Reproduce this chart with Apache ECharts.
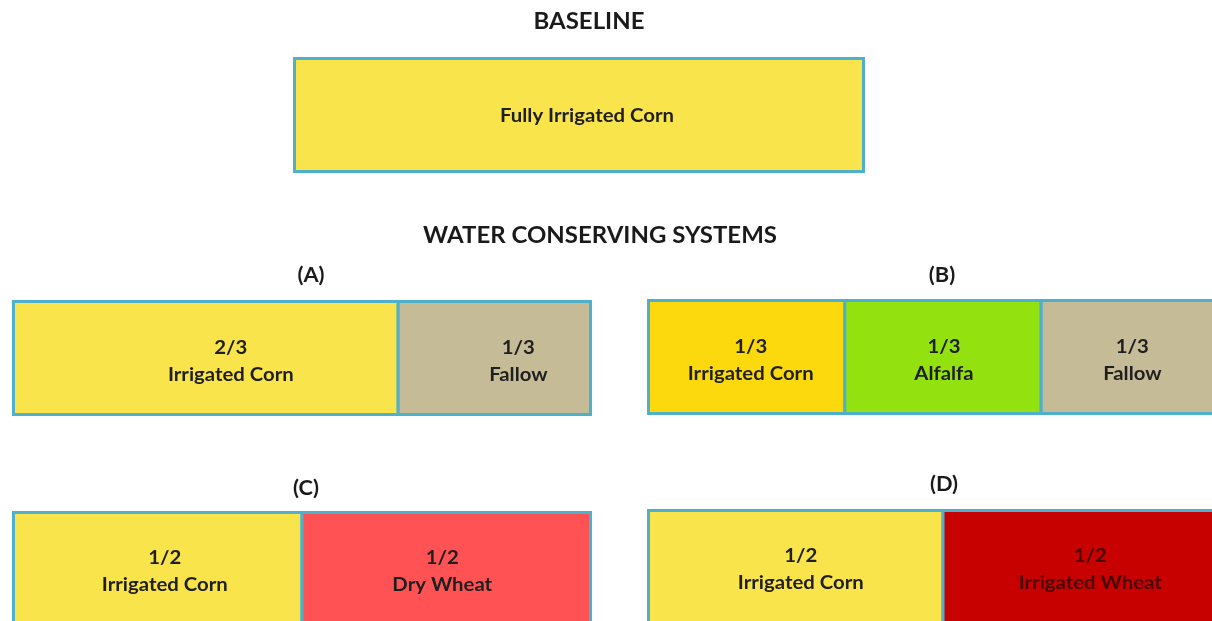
<!DOCTYPE html>
<html>
<head>
<meta charset="utf-8">
<script src="https://cdn.jsdelivr.net/npm/echarts@6/dist/echarts.min.js"></script>
<style>
html,body{margin:0;padding:0;background:#fff;}
#chart{width:1212px;height:621px;}
</style>
</head>
<body>
<div id="chart"></div>
<script>
// ---- data ----
const baselineCrops = ['Fully Irrigated Corn'];
const baselineShares = [1];
const baselineFractions = [''];

const aCrops = ['Irrigated Corn', 'Fallow'];
const aShares = [2/3, 1/3];
const aFractions = ['2/3', '1/3'];

const bCrops = ['Irrigated Corn', 'Alfalfa', 'Fallow'];
const bShares = [1/3, 1/3, 1/3];
const bFractions = ['1/3', '1/3', '1/3'];

const cCrops = ['Irrigated Corn', 'Dry Wheat'];
const cShares = [1/2, 1/2];
const cFractions = ['1/2', '1/2'];

const dCrops = ['Irrigated Corn', 'Irrigated Wheat'];
const dShares = [1/2, 1/2];
const dFractions = ['1/2', '1/2'];

const panelTitles = ['BASELINE', '(A)', '(B)', '(C)', '(D)'];
const sectionTitle = 'WATER CONSERVING SYSTEMS';

// ---- styles ----
const FONT = 'Lato, "Open Sans", sans-serif';
const BORDER = '#4FB0CB';
const panels = [
  {crops: baselineCrops, shares: baselineShares, fr: baselineFractions,
   colors: ['#F9E44B'], text: ['#1f1f1f'], dx: [8], dy: 1,
   grid: {left: 294.5, top: 58.5, width: 569, height: 113}},
  {crops: aCrops, shares: aShares, fr: aFractions,
   colors: ['#F9E44B', '#C6BB97'], text: ['#1f1f1f', '#1f1f1f'], dx: [25, 24], dy: 3,
   grid: {left: 13.5, top: 301.5, width: 577, height: 113}},
  {crops: bCrops, shares: bShares, fr: bFractions,
   colors: ['#FCD90C', '#93E10F', '#C6BB97'], text: ['#1f1f1f', '#1f1f1f', '#1f1f1f'], dx: [4, 1, -7], dy: 3,
   grid: {left: 648.5, top: 300.5, width: 589, height: 113}},
  {crops: cCrops, shares: cShares, fr: cFractions,
   colors: ['#F9E44B', '#FF5254'], text: ['#1f1f1f', '#1f1f1f'], dx: [7, -4], dy: 2,
   grid: {left: 13.5, top: 512.5, width: 577, height: 113}},
  {crops: dCrops, shares: dShares, fr: dFractions,
   colors: ['#F9E44B', '#C70000'], text: ['#1f1f1f', '#4a0505'], dx: [5, 0], dy: 2,
   grid: {left: 648.5, top: 510.5, width: 589, height: 113}}
];

const grids = [], xAxes = [], yAxes = [], series = [];
panels.forEach((p, i) => {
  grids.push(Object.assign({outerBoundsMode: 'none', containLabel: false}, p.grid));
  xAxes.push({type: 'value', gridIndex: i, min: 0, max: 1, show: false});
  yAxes.push({type: 'category', gridIndex: i, data: ['x'], show: false, boundaryGap: true});
  let start = 0;
  const data = p.crops.map((crop, j) => {
    const item = {value: [start, start + p.shares[j], 0], name: crop};
    start += p.shares[j];
    return item;
  });
  series.push({
    type: 'custom', xAxisIndex: i, yAxisIndex: i, silent: true,
    data: data,
    renderItem: function (params, api) {
      const j = params.dataIndex;
      const s = api.value(0), e = api.value(1);
      const p0 = api.coord([s, 0]);
      const p1 = api.coord([e, 0]);
      const h = api.size([0, 1])[1];
      const x = p0[0], y = p0[1] - h / 2, w = p1[0] - p0[0];
      const label = p.fr[j] ? p.fr[j] + '\n' + p.crops[j] : p.crops[j];
      return {
        type: 'group',
        children: [
          {type: 'rect', shape: {x: x, y: y, width: w, height: h},
           style: {fill: p.colors[j], stroke: BORDER, lineWidth: 3}},
          {type: 'text', x: x + w / 2 + p.dx[j], y: y + h / 2 + p.dy, scaleX: 1.07, scaleY: 1,
           style: {text: label, textAlign: 'center', textVerticalAlign: 'middle',
                   fill: p.text[j], font: 'bold 19px ' + FONT, lineHeight: 27}}
        ]
      };
    }
  });
});

const titleStyle = (text, x, y, size) => ({
  type: 'text', x: x, y: y, silent: true, scaleX: 1.09,
  style: {text: text, textAlign: 'center', textVerticalAlign: 'middle',
          fill: '#1a1a1a', font: 'bold ' + size + 'px ' + FONT}
});

const chart = echarts.init(document.getElementById('chart'));
chart.setOption({
  animation: false,
  grid: grids, xAxis: xAxes, yAxis: yAxes, series: series,
  graphic: [
    titleStyle(panelTitles[0], 589, 22, 22),
    titleStyle(sectionTitle, 600, 236, 22),
    titleStyle(panelTitles[1], 311, 276, 20),
    titleStyle(panelTitles[2], 942, 276, 20),
    titleStyle(panelTitles[3], 306, 489, 20),
    titleStyle(panelTitles[4], 944, 485, 20)
  ]
});
</script>
</body>
</html>
